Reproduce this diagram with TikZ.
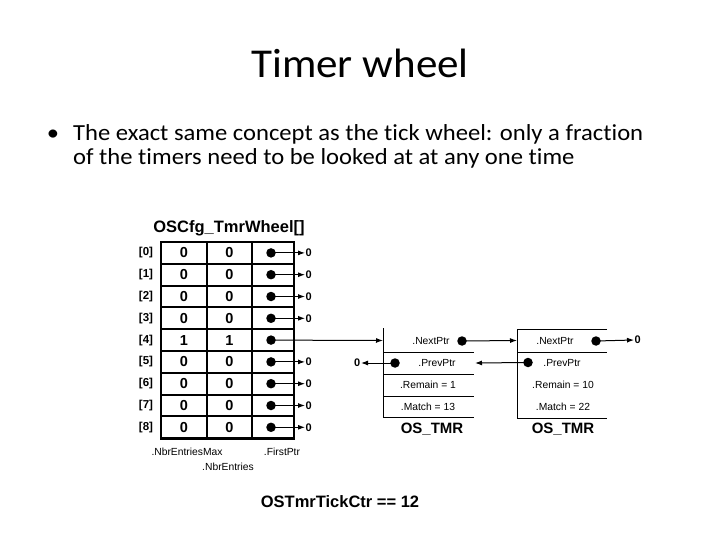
\documentclass[tikz,border=0pt]{standalone}
\usepackage{fontspec}
\setmainfont{Carlito}[Ligatures=NoCommon]
\newfontfamily\bodyfont{Carlito}[Ligatures=NoCommon,FakeStretch=1.07]
\newfontfamily\titlefont{Carlito}[Ligatures=NoCommon,FakeStretch=1.05]
\newfontfamily\arial{Liberation Sans}
\usetikzlibrary{arrows.meta}
\begin{document}
\begin{tikzpicture}[x=1pt,y=-1pt,
  cell/.style={draw,line width=2pt,minimum height=21.8pt,inner sep=0pt,font=\arial\bfseries\fontsize{14.5}{14}\selectfont},
  idx/.style={font=\arial\bfseries\fontsize{11.5}{12}\selectfont,inner sep=0pt},
  zero/.style={font=\arial\bfseries\fontsize{11}{12}\selectfont,inner sep=0.5pt,anchor=west},
  dot/.style={circle,fill=black,inner sep=0pt,minimum size=9.5pt},
  small/.style={font=\arial\fontsize{10.3}{11}\selectfont,inner sep=0pt},
  big/.style={font=\arial\bfseries\fontsize{15}{16}\selectfont,inner sep=0pt},
  body/.style={font=\bodyfont\fontsize{23}{24}\selectfont,inner sep=0pt},
  arr/.style={-{Latex[length=7pt,width=5pt]},line width=1pt},
  thin/.style={line width=1pt}
]
\useasboundingbox (0,0) rectangle (720,540);
\node[font=\titlefont\fontsize{41}{48}\selectfont,anchor=base] (title) at (360,78) {Timer wheel};
\node[body,anchor=base] (bul) at (53,141) {\textbullet};
\node[body,anchor=base west] (l1) at (73,141) {The exact same concept as the tick wheel: only a fraction};
\node[body,anchor=base west] (l2) at (73,165) {of the timers need to be looked at at any one time};

\node[font=\arial\bfseries\fontsize{16.5}{17}\selectfont,inner sep=0pt] (wt) at (229,228) {OSCfg\_TmrWheel[]};

\foreach \i/\a/\b in {0/0/0,1/0/0,2/0/0,3/0/0,4/1/1,5/0/0,6/0/0,7/0/0,8/0/0}{
  \pgfmathsetmacro{\yy}{242+21.8*(\i+0.5)}
  \node[cell,minimum width=46pt] (a\i) at (184,\yy) {\a};
  \node[cell,minimum width=45pt] (b\i) at (229.5,\yy) {\b};
  \node[cell,minimum width=42pt] (c\i) at (273,\yy) {};
  \node[idx] (i\i) at (146,\yy) {[\i]};
  \node[dot] (d\i) at (271,\yy) {};
}
\draw[line width=2.6pt] (161,242) rectangle (294,438.2);
\foreach \i in {0,1,2,3,5,6,7,8}{
  \node[zero] (z\i) at (305,{242+21.8*(\i+0.5)}) {0};
  \draw[arr] (d\i.center) -- (z\i.west);
}
\node[small] (nem) at (187,452) {.NbrEntriesMax};
\node[small] (fp) at (282,452) {.FirstPtr};
\node[small] (ne) at (228,467) {.NbrEntries};

% timer 1
\draw[thin] (383,328) -- (383,417.5);
\foreach \yy in {352,374,396,417.5}{\draw[thin] (383,\yy) -- (474,\yy);}
\node[small] (n1) at (431,341) {.NextPtr};
\node[small] (p1) at (437,363) {.PrevPtr};
\node[small] (r1) at (428,385) {.Remain = 1};
\node[small] (m1) at (428,407) {.Match = 13};
\node[big] (os1) at (432,429) {OS\_TMR};
\coordinate (b1l) at (383,340.5);
\coordinate (b1r) at (475,363);
\node[dot] (nd1) at (462,341) {};
\node[dot] (pd1) at (395,363) {};
\node[zero,anchor=east] (pz1) at (361,363) {0};

% timer 2
\draw[thin] (607,329) -- (517,329) -- (517,418) -- (607,418);
\draw[thin] (517,352) -- (607,352);
\node[small] (n2) at (555,341) {.NextPtr};
\node[small] (p2) at (562,363) {.PrevPtr};
\node[small] (r2) at (563,385) {.Remain = 10};
\node[small] (m2) at (563,407) {.Match = 22};
\node[big] (os2) at (563,429) {OS\_TMR};
\coordinate (b2l) at (517,340.5);
\node[dot] (nd2) at (596,341) {};
\node[dot] (pd2) at (528,362.5) {};
\node[zero] (nz2) at (634,340) {0};

\draw[arr] (d4.center) -- (b1l);
\draw[arr] (nd1.center) -- (b2l);
\draw[arr] (pd1.center) -- (pz1.east);
\draw[arr] (pd2.center) -- (b1r);
\draw[arr] (nd2.center) -- (nz2.west);

\node[font=\arial\bfseries\fontsize{16.5}{17}\selectfont,inner sep=0pt] (tick) at (340,502) {OSTmrTickCtr == 12};
\end{tikzpicture}
\end{document}
